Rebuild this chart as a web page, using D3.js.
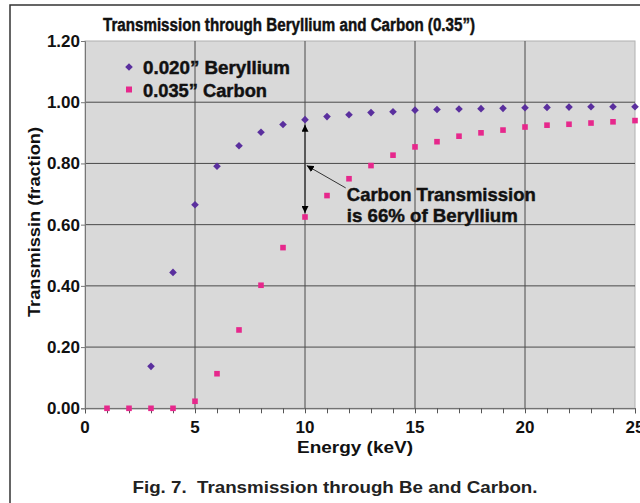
<!DOCTYPE html>
<html>
<head>
<meta charset="utf-8">
<script src="https://cdn.jsdelivr.net/npm/d3@7"></script>
<style>
  body { margin: 0; background: #fff; }
  text { font-family: "Liberation Sans", Arial, sans-serif; font-weight: bold; white-space: pre; }
  .heavy { stroke: #111; stroke-width: 0.45; }
</style>
</head>
<body>
<div id="chart"></div>
<script>
var margin = { top: 41, left: 85 },
    outerWidth = 640,
    outerHeight = 503,
    width = 550,
    height = 367.3;

// energy in keV
var energy = [1, 2, 3, 4, 5, 6, 7, 8, 9, 10, 11, 12, 13, 14, 15, 16, 17, 18, 19, 20, 21, 22, 23, 24, 25];
// 0.020" beryllium (nothing plotted below 3 keV)
var beryllium = [null, null, 0.137, 0.444, 0.665, 0.791, 0.858, 0.902, 0.927, 0.943, 0.953, 0.959, 0.966, 0.969, 0.974,
                 0.976, 0.978, 0.979, 0.980, 0.982, 0.983, 0.984, 0.985, 0.985, 0.985];
// 0.035" carbon
var carbon = [0, 0, 0, 0, 0.023, 0.113, 0.256, 0.402, 0.525, 0.625, 0.695, 0.750, 0.793, 0.827, 0.854,
              0.871, 0.889, 0.900, 0.909, 0.919, 0.925, 0.928, 0.932, 0.936, 0.940];

var xTicks = [0, 5, 10, 15, 20, 25];
var yTicks = [0, 0.2, 0.4, 0.6, 0.8, 1.0, 1.2];
var seriesNames = ["0.020\u201D Beryllium", "0.035\u201D Carbon"];
var seriesColors = ["#5a2f9e", "#e6288c"];

var title = "Transmission through Beryllium and Carbon (0.35\u201D)";
var descriptionX = "Energy (keV)";
var descriptionY = "Transmissin (fraction)";
var caption = "Fig. 7.  Transmission through Be and Carbon.";
var noteLines = ["Carbon Transmission", "is 66% of Beryllium"];

var x = d3.scaleLinear().domain([0, 25]).range([0, width]);
var y = d3.scaleLinear().domain([0, 1.2]).range([height, 0]);

var svgRoot = d3.select("#chart")
    .append("svg")
    .attr("width", outerWidth)
    .attr("height", outerHeight);

// outer frame
svgRoot.append("rect")
    .attr("x", 10)
    .attr("y", 5)
    .attr("width", 660)
    .attr("height", 520)
    .attr("fill", "none")
    .attr("stroke", "#333")
    .attr("stroke-width", 1.5);

svgRoot.append("text")
    .attr("class", "heavy")
    .attr("x", 289)
    .attr("y", 31)
    .attr("text-anchor", "middle")
    .attr("textLength", 372)
    .attr("lengthAdjust", "spacingAndGlyphs")
    .style("font-size", "18px")
    .style("fill", "#111")
    .text(title);

var svg = svgRoot.append("g")
    .attr("transform", "translate(" + margin.left + "," + margin.top + ")");

svg.append("rect")
    .attr("width", width)
    .attr("height", height)
    .attr("fill", "#d9d9d9")
    .attr("stroke", "#b0b0b0");

// grid
svg.selectAll(".hgrid")
    .data(yTicks.slice(1, -1))
    .enter().append("line")
    .attr("class", "hgrid")
    .attr("x1", 0)
    .attr("x2", width)
    .attr("y1", function(d) { return y(d); })
    .attr("y2", function(d) { return y(d); })
    .attr("stroke", "#4a4a4a")
    .attr("stroke-width", 1);

svg.selectAll(".vgrid")
    .data(xTicks.slice(1, -1))
    .enter().append("line")
    .attr("class", "vgrid")
    .attr("y1", 0)
    .attr("y2", height)
    .attr("x1", function(d) { return x(d); })
    .attr("x2", function(d) { return x(d); })
    .attr("stroke", "#4a4a4a")
    .attr("stroke-width", 1);

// axes
var xAxis = d3.axisBottom(x).tickValues(d3.range(0, 26)).tickSize(5).tickFormat("");
var gx = svg.append("g")
    .attr("transform", "translate(0," + height + ")")
    .call(xAxis);
gx.selectAll("path, line").attr("stroke", "#555");

var yAxis = d3.axisLeft(y).tickValues(yTicks).tickSize(4).tickFormat("");
var gy = svg.append("g").call(yAxis);
gy.selectAll("path, line").attr("stroke", "#777");

svg.selectAll(".xlab")
    .data(xTicks)
    .enter().append("text")
    .attr("class", "xlab")
    .attr("x", function(d) { return x(d); })
    .attr("y", height + 25)
    .attr("text-anchor", "middle")
    .style("font-size", "17px")
    .style("fill", "#111")
    .text(function(d) { return d; });

svg.selectAll(".ylab")
    .data(yTicks)
    .enter().append("text")
    .attr("class", "ylab")
    .attr("x", -5)
    .attr("y", function(d) { return y(d) + 6; })
    .attr("text-anchor", "end")
    .style("font-size", "17px")
    .style("fill", "#111")
    .text(function(d) { return d3.format(".2f")(d); });

svgRoot.append("text")
    .attr("x", 355)
    .attr("y", 453)
    .attr("text-anchor", "middle")
    .attr("textLength", 116)
    .attr("lengthAdjust", "spacingAndGlyphs")
    .style("font-size", "16px")
    .style("fill", "#111")
    .text(descriptionX);

svgRoot.append("text")
    .attr("transform", "translate(40,222) rotate(-90)")
    .attr("text-anchor", "middle")
    .attr("textLength", 190)
    .attr("lengthAdjust", "spacingAndGlyphs")
    .style("font-size", "16px")
    .style("fill", "#111")
    .text(descriptionY);

svgRoot.append("text")
    .attr("x", 335)
    .attr("y", 493)
    .attr("text-anchor", "middle")
    .attr("textLength", 405)
    .attr("lengthAdjust", "spacingAndGlyphs")
    .style("font-size", "17px")
    .style("fill", "#222")
    .text(caption);

// points
var diamondPath = "M0,-3.8L3.8,0L0,3.8L-3.8,0Z";

svg.selectAll(".be")
    .data(energy.filter(function(d, i) { return beryllium[i] != null; }))
    .enter().append("path")
    .attr("class", "be")
    .attr("d", diamondPath)
    .attr("transform", function(d) { return "translate(" + x(d) + "," + y(beryllium[energy.indexOf(d)]) + ")"; })
    .attr("fill", seriesColors[0]);

svg.selectAll(".c")
    .data(energy)
    .enter().append("rect")
    .attr("class", "c")
    .attr("x", function(d) { return x(d) - 2.8; })
    .attr("y", function(d, i) { return y(carbon[i]) - 2.8; })
    .attr("width", 5.6)
    .attr("height", 5.6)
    .attr("fill", seriesColors[1]);

// legend
var legend = svgRoot.selectAll(".legend")
    .data(seriesNames)
    .enter().append("g")
    .attr("class", "legend")
    .attr("transform", function(d, i) { return "translate(129," + (67 + i * 22.5) + ")"; });

legend.append("path")
    .attr("d", function(d, i) { return i == 0 ? diamondPath : "M-3,-3h6v6h-6z"; })
    .attr("fill", function(d, i) { return seriesColors[i]; });

legend.append("text")
    .attr("class", "heavy")
    .attr("x", 14)
    .attr("y", 7)
    .attr("textLength", function(d, i) { return i == 0 ? 147 : 124; })
    .attr("lengthAdjust", "spacingAndGlyphs")
    .style("font-size", "18px")
    .style("fill", "#111")
    .text(function(d) { return d; });

// annotation
var defs = svgRoot.append("defs");
defs.append("marker")
    .attr("id", "head")
    .attr("viewBox", "0 0 10 10")
    .attr("refX", 10)
    .attr("refY", 5)
    .attr("markerWidth", 7)
    .attr("markerHeight", 7)
    .attr("markerUnits", "userSpaceOnUse")
    .attr("orient", "auto")
    .append("path")
    .attr("d", "M0,0L10,5L0,10z")
    .attr("fill", "#000");

svg.append("line")
    .attr("x1", x(10)).attr("y1", y(0.8))
    .attr("x2", x(10)).attr("y2", y(beryllium[9]) + 5)
    .attr("stroke", "#222")
    .attr("marker-end", "url(#head)");

svg.append("line")
    .attr("x1", x(10)).attr("y1", y(0.8))
    .attr("x2", x(10)).attr("y2", y(carbon[9]) - 4)
    .attr("stroke", "#222")
    .attr("marker-end", "url(#head)");

svg.append("line")
    .attr("x1", x(11.85)).attr("y1", y(0.72))
    .attr("x2", x(10.08)).attr("y2", y(0.793))
    .attr("stroke", "#333")
    .attr("stroke-width", 1)
    .attr("marker-end", "url(#head)");

svg.selectAll(".note")
    .data(noteLines)
    .enter().append("text")
    .attr("class", "note heavy")
    .attr("x", x(11.9))
    .attr("y", function(d, i) { return 160 + i * 21; })
    .attr("textLength", function(d, i) { return i == 0 ? 189 : 171; })
    .attr("lengthAdjust", "spacingAndGlyphs")
    .style("font-size", "19px")
    .style("fill", "#111")
    .text(function(d) { return d; });
</script>
</body>
</html>
